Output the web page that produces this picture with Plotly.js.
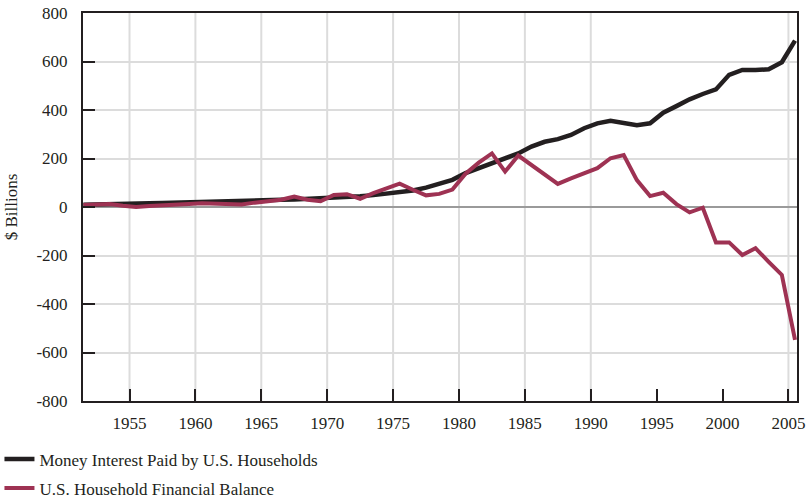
<!DOCTYPE html>
<html>
<head>
<meta charset="utf-8">
<script src="https://cdn.plot.ly/plotly-3.0.1.min.js"></script>
<style>html,body{margin:0;padding:0;background:#fff;}#chart{width:808px;height:503px;}</style>
</head>
<body>
<div id="chart"></div>
<script>
// Annual data, 1951-2005 (plotted at mid-year)
const years = [1951,1952,1953,1954,1955,1956,1957,1958,1959,1960,
  1961,1962,1963,1964,1965,1966,1967,1968,1969,1970,
  1971,1972,1973,1974,1975,1976,1977,1978,1979,1980,
  1981,1982,1983,1984,1985,1986,1987,1988,1989,1990,
  1991,1992,1993,1994,1995,1996,1997,1998,1999,2000,
  2001,2002,2003,2004,2005];

// Money interest paid by U.S. households ($ billions)
const interestPaid = [9,11,12,13,14,15,16,18,19,21,
  22,24,25,27,28,30,31,33,35,37,
  40,44,49,55,61,68,80,95,112,140,
  160,180,197,221,249,269,280,297,325,345,
  356,348,337,345,389,416,444,466,485,545,
  565,565,568,597,686];

// U.S. household financial balance ($ billions)
const financialBalance = [8,10,12,5,0,4,8,10,12,15,
  12,9,10,18,25,30,43,30,24,50,
  53,34,57,75,96,71,48,54,72,137,
  183,221,146,212,173,139,95,118,139,160,
  201,214,111,45,59,12,-22,-3,-146,-146,
  -198,-170,-226,-280,-548];

const tickYears = [1955,1960,1965,1970,1975,1980,1985,1990,1995,2000,2005];
const tickLabels = ['1955','1960','1965','1970','1975','1980','1985','1990','1995','2000','2005'];
const yTickVals = [-800,-600,-400,-200,0,200,400,600,800];
const yTickLabels = ['-800','-600','-400','-200','0','200','400','600','800'];
const gridYears = [1955,1960,1965,1970,1975,1980,1985,1990,2005];

const xMid = years.map(y => y + 0.5);
const ink = '#231f20';
const fontFam = '"Liberation Serif", "DejaVu Serif", serif';

const traces = [
  {x: xMid, y: interestPaid, type: 'scatter', mode: 'lines',
   name: 'Money Interest Paid by U.S. Households', legendgroup: 'a',
   line: {color: ink, width: 4.5}},
  {x: xMid, y: financialBalance, type: 'scatter', mode: 'lines',
   name: 'U.S. Household Financial Balance', legendgroup: 'b',
   line: {color: '#9e3253', width: 4}}
];

const shapes = gridYears.map(g => ({
  type: 'line', layer: 'below', xref: 'x', yref: 'paper',
  x0: g, x1: g, y0: 0, y1: 1,
  line: {color: '#dcdcdc', width: 2}
}));

const layout = {
  width: 808, height: 503,
  margin: {l: 83, r: 11, t: 13, b: 102, autoexpand: false},
  paper_bgcolor: '#fff', plot_bgcolor: '#fff',
  font: {family: fontFam, size: 17, color: ink},
  showlegend: true,
  legend: {x: -0.117, xanchor: 'left', y: -0.104, yanchor: 'top',
           orientation: 'v', traceorder: 'grouped', tracegroupgap: 4,
           font: {family: fontFam, size: 17, color: ink},
           bgcolor: 'rgba(0,0,0,0)', itemwidth: 30},
  xaxis: {
    range: [1951.47, 2005.65], tickmode: 'array', tickvals: tickYears, ticktext: tickLabels,
    ticks: 'inside', ticklen: 12, tickwidth: 2, tickcolor: ink,
    showline: true, mirror: true, linewidth: 2, linecolor: ink,
    showgrid: false, zeroline: false, ticklabelstandoff: 6,
    tickfont: {family: fontFam, size: 17, color: ink}
  },
  yaxis: {
    range: [-800, 800], tickmode: 'array', tickvals: yTickVals, ticktext: yTickLabels,
    ticks: 'inside', ticklen: 12, tickwidth: 2, tickcolor: ink,
    showline: true, mirror: true, linewidth: 2, linecolor: ink,
    showgrid: true, gridcolor: '#dcdcdc', gridwidth: 2,
    zeroline: true, zerolinecolor: '#9a9a9a', zerolinewidth: 1.5,
    ticklabelstandoff: 10,
    tickfont: {family: fontFam, size: 17, color: ink},
    title: {text: '$ Billions', font: {family: fontFam, size: 17, color: ink}, standoff: 14}
  },
  shapes: shapes
};

Plotly.newPlot('chart', traces, layout, {displayModeBar: false, staticPlot: true});
</script>
</body>
</html>
